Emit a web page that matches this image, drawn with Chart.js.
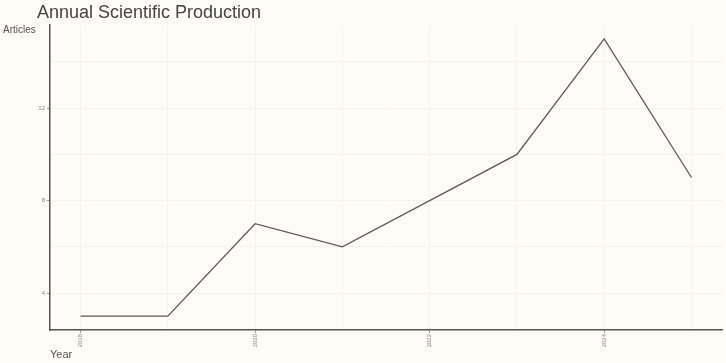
<!DOCTYPE html>
<html>
<head>
<meta charset="utf-8">
<script src="https://cdn.jsdelivr.net/npm/chart.js@4.4.1/dist/chart.umd.min.js"></script>
<style>
  html, body { margin: 0; padding: 0; background: #fffbf6; }
  #wrap { width: 726px; height: 363px; position: relative; }
</style>
</head>
<body>
<div id="wrap"><canvas id="chart"></canvas></div>
<script>
const years = [2018, 2019, 2020, 2021, 2022, 2023, 2024, 2025];
const articles = [3, 3, 7, 6, 8, 10, 15, 9];
const yearTicks = [2018, 2020, 2022, 2024];
const articleTicks = [4, 8, 12];

const textPlugin = {
    id: 'textPlugin',
    afterDraw(chart) {
        const ctx = chart.ctx;
        ctx.save();
        ctx.fillStyle = '#444';
        ctx.textBaseline = 'alphabetic';
        ctx.font = '18px "Liberation Sans", Arial, sans-serif';
        ctx.fillText('Annual Scientific Production', 37, 18);
        ctx.fillStyle = '#555';
        ctx.font = '10px "Liberation Sans", Arial, sans-serif';
        ctx.fillText('Articles', 3, 33);
        ctx.font = '11px "Liberation Sans", Arial, sans-serif';
        ctx.fillText('Year', 50, 358);
        ctx.restore();
    }
};

const ctx = document.getElementById('chart').getContext('2d');
new Chart(ctx, {
    type: 'line',
    data: {
        datasets: [{
            data: years.map((y, i) => ({ x: y, y: articles[i] })),
            borderColor: '#5a5a5a',
            borderWidth: 1.3,
            pointRadius: 0,
            tension: 0
        }]
    },
    options: {
        responsive: true,
        maintainAspectRatio: false,
        animation: false,
        layout: { padding: { left: 0, right: 4, top: 25, bottom: 0 } },
        plugins: { legend: { display: false }, tooltip: { enabled: false } },
        scales: {
            x: {
                type: 'linear',
                min: 2017.65,
                max: 2025.35,
                afterBuildTicks: s => {
                    s.ticks = [2018, 2019, 2020, 2021, 2022, 2023, 2024, 2025].map(v => ({ value: v }));
                },
                afterFit: s => { s.height = 33; },
                border: { color: '#555', width: 1.5 },
                grid: {
                    color: '#f6f2ec',
                    lineWidth: 1,
                    tickLength: 3,
                    tickColor: c => yearTicks.includes(c.tick && c.tick.value) ? '#999' : 'rgba(0,0,0,0)'
                },
                ticks: {
                    autoSkip: false,
                    maxRotation: 90,
                    minRotation: 90,
                    color: '#888',
                    padding: 1,
                    font: { size: 6, family: 'Liberation Sans' },
                    callback: v => yearTicks.includes(v) ? String(v) : ''
                }
            },
            y: {
                min: 2.4,
                max: 15.6,
                afterBuildTicks: s => {
                    s.ticks = [4, 6, 8, 10, 12, 14].map(v => ({ value: v }));
                },
                afterFit: s => { s.width = 50; },
                border: { color: '#555', width: 1.5 },
                grid: {
                    color: '#f6f2ec',
                    lineWidth: 1,
                    tickLength: 3,
                    tickColor: c => articleTicks.includes(c.tick && c.tick.value) ? '#999' : 'rgba(0,0,0,0)'
                },
                ticks: {
                    color: '#888',
                    padding: 2,
                    font: { size: 6, family: 'Liberation Sans' },
                    callback: v => articleTicks.includes(v) ? String(v) : ''
                }
            }
        }
    },
    plugins: [textPlugin]
});
</script>
</body>
</html>
